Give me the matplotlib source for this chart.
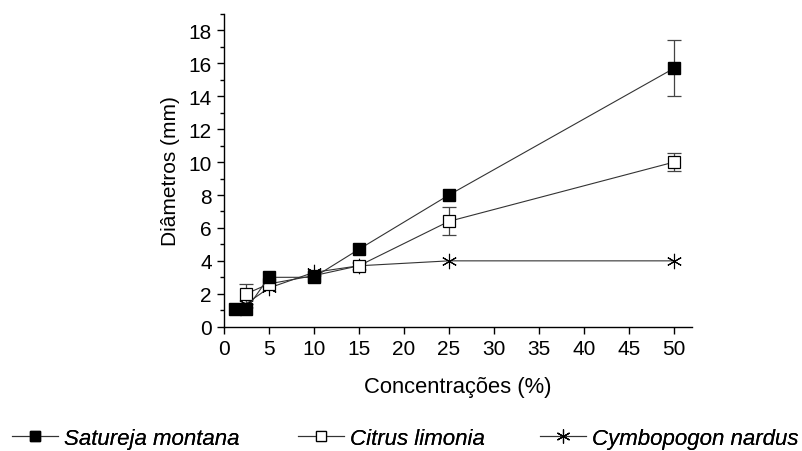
import matplotlib
matplotlib.use("Agg")
import matplotlib.pyplot as plt
from matplotlib.ticker import MultipleLocator

plt.rcParams['font.family'] = ['Liberation Sans', 'DejaVu Sans']

# Halo diameters vs. essential-oil concentration
conc_satureja = [1.25, 2.5, 5, 10, 15, 25, 50]
diam_satureja = [1.05, 1.05, 3.0, 3.0, 4.7, 8.0, 15.7]
err_satureja = [0, 0, 0, 0, 0, 0, 1.7]

conc_citrus = [2.5, 5, 10, 15, 25, 50]
diam_citrus = [2.0, 2.6, 3.1, 3.7, 6.4, 10.0]
err_citrus = [0.6, 0, 0, 0, 0.85, 0.55]

conc_cymbo = [2.5, 5, 10, 15, 25, 50]
diam_cymbo = [1.4, 2.35, 3.3, 3.7, 4.0, 4.0]

xticks = list(range(0, 55, 5))
yticks = list(range(0, 20, 2))

FS = 15

fig = plt.figure(figsize=(8.02, 4.52), dpi=100)
ax = fig.add_axes([0.279, 0.275, 0.584, 0.692])


def series(x, y, err, z, label, **mk):
    # error bars only where a deviation was reported
    ex = [a for a, e in zip(x, err) if e > 0]
    ey = [b for b, e in zip(y, err) if e > 0]
    ee = [e for e in err if e > 0]
    if ee:
        ax.errorbar(ex, ey, yerr=ee, fmt="none", ecolor="#444444",
                    elinewidth=0.9, capsize=5, capthick=0.9, zorder=z - 0.5)
    line, = ax.plot(x, y, color="#333333", lw=0.8, mec="black", zorder=z,
                    label=label, **mk)
    return line


h_cit = series(conc_citrus, diam_citrus, err_citrus, 3, "Citrus limonia",
               marker="s", ms=8, mfc="white", mew=0.9)
h_cym = series(conc_cymbo, diam_cymbo, [0] * len(conc_cymbo), 2,
               "Cymbopogon nardus", marker=(6, 2, 0), ms=11, mew=0.8)
h_sat = series(conc_satureja, diam_satureja, err_satureja, 4,
               "Satureja montana", marker="s", ms=8, mfc="black")

ax.set_xlim(0, 52)
ax.set_ylim(0, 19)
ax.set_xticks(xticks)
ax.set_yticks(yticks)
ax.yaxis.set_minor_locator(MultipleLocator(1))
ax.spines["top"].set_visible(False)
ax.spines["right"].set_visible(False)
for s in ("left", "bottom"):
    ax.spines[s].set_linewidth(1.0)
ax.tick_params(axis="both", which="major", direction="out", length=5,
               width=1.0, labelsize=FS)
ax.tick_params(axis="y", which="minor", direction="out", length=3, width=1.0)

ax.set_xlabel("Concentrações (%)", fontsize=15.8, labelpad=13)
ax.set_ylabel("Diâmetros (mm)", fontsize=FS, labelpad=6)

# one legend entry per block, spread across the bottom of the figure
for h, x0 in ((h_sat, 12), (h_cit, 298), (h_cym, 540)):
    leg = fig.legend([h], [h.get_label()], loc="lower left",
                     bbox_to_anchor=(x0 / 802, 0.004), frameon=False,
                     borderpad=0, borderaxespad=0, handlelength=2.05,
                     handletextpad=0.3, markerscale=0.9,
                     prop={"style": "italic", "size": 16})
    fig.add_artist(leg)

fig.savefig("out.png", dpi=100)
